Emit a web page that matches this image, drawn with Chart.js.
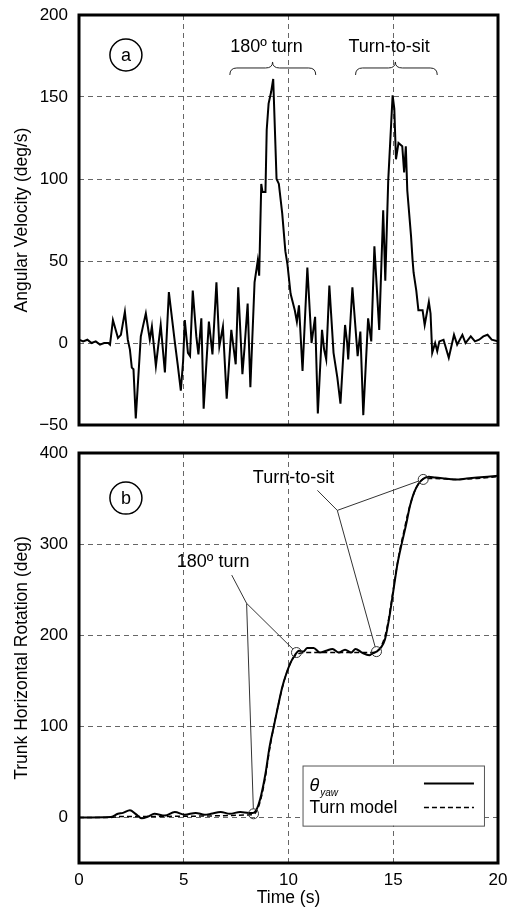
<!DOCTYPE html>
<html>
<head>
<meta charset="utf-8">
<script src="https://cdn.jsdelivr.net/npm/chart.js@4/dist/chart.umd.min.js"></script>
<style>
  html, body { margin: 0; padding: 0; background: #fff; }
  #wrapA { position: absolute; left: 0; top: 0; width: 513px; height: 440px; }
  #wrapB { position: absolute; left: 0; top: 440px; width: 513px; height: 470px; }
</style>
</head>
<body>
<div id="wrapA"><canvas id="chartA"></canvas></div>
<div id="wrapB"><canvas id="chartB"></canvas></div>
<script>
// panel a: angular velocity (deg/s) vs time (s)
const timeA = [0, 0.2, 0.4, 0.6, 0.8, 1.0, 1.2, 1.4, 1.48, 1.62, 1.86, 2.0, 2.19, 2.33, 2.43, 2.52, 2.6, 2.71, 2.95, 3.05, 3.19, 3.38, 3.48, 3.67, 3.9, 4.1, 4.29, 4.57, 4.71, 4.86, 4.97, 5.05, 5.2, 5.3, 5.43, 5.6, 5.7, 5.84, 5.95, 6.2, 6.37, 6.56, 6.7, 6.87, 7.05, 7.27, 7.48, 7.6, 7.8, 7.9, 8.05, 8.18, 8.38, 8.53, 8.6, 8.7, 8.76, 8.9, 8.96, 9.05, 9.17, 9.27, 9.43, 9.54, 9.7, 9.85, 9.95, 10.1, 10.2, 10.3, 10.4, 10.5, 10.67, 10.9, 11.1, 11.27, 11.4, 11.6, 11.7, 11.8, 11.95, 12.15, 12.33, 12.48, 12.7, 12.8, 12.85, 13.05, 13.3, 13.43, 13.57, 13.8, 13.95, 14.1, 14.33, 14.52, 14.62, 14.76, 14.97, 15.05, 15.13, 15.25, 15.43, 15.52, 15.6, 15.67, 15.85, 15.92, 15.97, 16.1, 16.2, 16.4, 16.5, 16.7, 16.78, 16.86, 17.0, 17.1, 17.2, 17.4, 17.65, 17.9, 18.05, 18.3, 18.45, 18.7, 18.9, 19.1, 19.3, 19.5, 19.7, 20.0];
const velA = [2, 1, 2, 0, 1, -1, 0, 0, -1, 14, 3, 5, 19, 2, -4, -15, -16, -46, 4, 10, 18, 2, 10, -14, 11, -18, 31, 1, -13, -29, -11, 14, -6, -8, 32, 4, -7, 15, -40, 13, -7, 37, -2, 10, -34, 8, -13, 34, -19, -3, 24, -27, 37, 50, 41, 97, 92, 92, 130, 146, 153, 161, 100, 97, 79, 56, 48, 30, 25, 20, 13, 23, -17, 46, 0, 16, -43, 8, -4, -10, 35, -6, -21, -37, 11, 0, -10, 34, -8, 7, -44, 15, 1, 59, 8, 81, 38, 99, 151, 143, 112, 122, 120, 104, 120, 93, 65, 51, 43, 32, 20, 20, 11, 25, 18, -6, 0, -5, 1, 2, -9, 5, -1, 5, 0, 4, 1, 2, 4, 5, 2, 1];

// panel b: trunk horizontal rotation (deg) vs time (s)
const timeB = [0, 1.5, 1.86, 2.1, 2.43, 2.7, 3.0, 3.3, 3.6, 4.1, 4.57, 5.05, 5.57, 6.0, 6.3, 6.76, 7.2, 7.7, 8.1, 8.3, 8.5, 8.7, 8.9, 9.1, 9.3, 9.5, 9.7, 9.9, 10.1, 10.3, 10.5, 10.7, 10.9, 11.2, 11.5, 11.8, 12.1, 12.4, 12.7, 13.0, 13.2, 13.5, 13.86, 14.0, 14.2, 14.4, 14.6, 14.8, 15.0, 15.2, 15.4, 15.6, 15.8, 16.0, 16.2, 16.45, 16.7, 17.0, 17.5, 18.0, 18.5, 19.0, 19.5, 20.0];
const thetaYaw = [0, 0.5, 4, 5, 8, 4, -1, 1, 4, 2, 6, 3, 5, 3, 4, 6, 4, 6, 5, 5, 10, 25, 48, 78, 100, 122, 143, 158, 170, 178, 183, 182, 186, 186, 181, 183, 185, 181, 184, 181, 185, 181, 178, 180, 182, 186, 195, 218, 248, 278, 300, 320, 342, 357, 366, 372, 374, 373, 372, 371, 372, 373, 374, 375];
const timeModel = [0, 1.5, 2.0, 8.3, 8.5, 8.7, 8.9, 9.1, 9.3, 9.5, 9.7, 9.9, 10.1, 10.3, 10.5, 11.0, 14.1, 14.3, 14.5, 14.7, 14.9, 15.1, 15.3, 15.5, 15.7, 15.9, 16.1, 16.3, 16.5, 17.0, 18.0, 19.0, 20.0];
const turnModel = [0, 0, 1, 3, 8, 22, 45, 75, 100, 122, 142, 158, 170, 177, 180, 181, 181, 184, 192, 208, 235, 265, 292, 313, 334, 350, 362, 369, 372, 372, 371, 372, 374];

const xTicks = [0, 5, 10, 15, 20];
const yTicksA = [-50, 0, 50, 100, 150, 200];
const yTicksB = [0, 100, 200, 300, 400];

const FONT = "'Liberation Sans', Arial, Helvetica, sans-serif";
const gridStyle = { color: '#666', lineWidth: 1, drawTicks: false };
const borderStyle = { display: false, dash: [5, 4] };
const minus = v => String(v).replace('-', '\u2212');

function pts(xs, ys) { return xs.map((x, i) => ({ x: x, y: ys[i] })); }
function setTicks(list) { return s => { s.ticks = list.map(v => ({ value: v })); }; }

// thick frame around the plot area
const framePlugin = {
  id: 'frame',
  afterDatasetsDraw(chart) {
    const a = chart.chartArea, ctx = chart.ctx;
    ctx.save();
    ctx.strokeStyle = '#000';
    ctx.lineWidth = 3;
    ctx.strokeRect(a.left, a.top, a.right - a.left, a.bottom - a.top);
    ctx.restore();
  }
};

function panelLabel(ctx, x, y, txt) {
  ctx.beginPath();
  ctx.arc(x, y, 16, 0, Math.PI * 2);
  ctx.lineWidth = 1.5;
  ctx.strokeStyle = '#000';
  ctx.stroke();
  ctx.fillStyle = '#000';
  ctx.font = '18px ' + FONT;
  ctx.textAlign = 'center';
  ctx.textBaseline = 'middle';
  ctx.fillText(txt, x, y + 1);
}

function brace(ctx, x1, x2, xm, y) {
  const r = 7;
  ctx.beginPath();
  ctx.moveTo(x1, y + r);
  ctx.quadraticCurveTo(x1, y, x1 + r, y);
  ctx.lineTo(xm - r, y);
  ctx.quadraticCurveTo(xm, y, xm, y - r + 1);
  ctx.quadraticCurveTo(xm, y, xm + r, y);
  ctx.lineTo(x2 - r, y);
  ctx.quadraticCurveTo(x2, y, x2, y + r);
  ctx.lineWidth = 1;
  ctx.strokeStyle = '#222';
  ctx.stroke();
}

function label(ctx, txt, x, y) {
  ctx.fillStyle = '#000';
  ctx.font = '18px ' + FONT;
  ctx.textAlign = 'center';
  ctx.textBaseline = 'middle';
  ctx.fillText(txt, x, y);
}

const notesA = {
  id: 'notesA',
  afterDraw(chart) {
    const ctx = chart.ctx, xs = chart.scales.x, ys = chart.scales.y;
    const X = v => xs.getPixelForValue(v), Y = v => ys.getPixelForValue(v);
    ctx.save();
    panelLabel(ctx, X(2.24), Y(175.6), 'a');
    label(ctx, '180\u00BA turn', X(8.95), Y(180.5));
    label(ctx, 'Turn-to-sit', X(14.8), Y(180.5));
    brace(ctx, X(7.2), X(11.3), X(9.24), Y(167.7));
    brace(ctx, X(13.2), X(17.1), X(15.1), Y(167.7));
    ctx.restore();
  }
};

function leader(ctx, start, cx, cy, r) {
  // line toward a circle, stopping at its edge
  const [sx, sy] = start;
  const dx = cx - sx, dy = cy - sy, d = Math.hypot(dx, dy);
  ctx.beginPath();
  ctx.moveTo(sx, sy);
  ctx.lineTo(cx - dx / d * r, cy - dy / d * r);
  ctx.stroke();
}

const notesB = {
  id: 'notesB',
  afterDraw(chart) {
    const ctx = chart.ctx, xs = chart.scales.x, ys = chart.scales.y;
    const X = v => xs.getPixelForValue(v), Y = v => ys.getPixelForValue(v);
    ctx.save();
    panelLabel(ctx, X(2.24), Y(350.5), 'b');
    label(ctx, 'Turn-to-sit', X(10.24), Y(372.5));
    label(ctx, '180\u00BA turn', X(6.4), Y(280));

    ctx.strokeStyle = '#333';
    ctx.lineWidth = 1;
    const r = 5;
    const marks = [[8.33, 4], [10.38, 181], [14.2, 182], [16.43, 371]];
    marks.forEach(([t, v]) => {
      ctx.beginPath();
      ctx.arc(X(t), Y(v), r, 0, Math.PI * 2);
      ctx.stroke();
    });
    // turn-to-sit leaders
    ctx.beginPath();
    ctx.moveTo(X(11.38), Y(359));
    ctx.lineTo(X(12.33), Y(337));
    ctx.stroke();
    leader(ctx, [X(12.33), Y(337)], X(16.43), Y(371), r);
    leader(ctx, [X(12.33), Y(337)], X(14.2), Y(182), r);
    // 180 turn leaders
    ctx.beginPath();
    ctx.moveTo(X(7.29), Y(266));
    ctx.lineTo(X(8.0), Y(235));
    ctx.stroke();
    leader(ctx, [X(8.0), Y(235)], X(10.38), Y(181), r);
    leader(ctx, [X(8.0), Y(235)], X(8.33), Y(4), r);

    // legend box
    const bx1 = X(10.67), bx2 = X(19.33), by1 = Y(57), by2 = Y(-9);
    ctx.fillStyle = '#fff';
    ctx.fillRect(bx1, by1, bx2 - bx1, by2 - by1);
    ctx.strokeStyle = '#555';
    ctx.strokeRect(bx1 + 0.5, by1 + 0.5, bx2 - bx1, by2 - by1);
    ctx.fillStyle = '#000';
    ctx.textAlign = 'left';
    ctx.textBaseline = 'middle';
    ctx.font = 'italic 18px ' + FONT;
    ctx.fillText('\u03B8', bx1 + 7, by1 + 20);
    const tw = ctx.measureText('\u03B8').width;
    ctx.font = 'italic 10px ' + FONT;
    ctx.fillText('yaw', bx1 + 8 + tw, by1 + 28);
    ctx.font = '17.5px ' + FONT;
    ctx.fillText('Turn model', bx1 + 7, by1 + 43);
    ctx.strokeStyle = '#000';
    ctx.lineWidth = 2;
    ctx.beginPath();
    ctx.moveTo(bx2 - 60, by1 + 18);
    ctx.lineTo(bx2 - 10, by1 + 18);
    ctx.stroke();
    ctx.lineWidth = 1.5;
    ctx.setLineDash([5, 3]);
    ctx.beginPath();
    ctx.moveTo(bx2 - 60, by1 + 42);
    ctx.lineTo(bx2 - 10, by1 + 42);
    ctx.stroke();
    ctx.restore();
  }
};

Chart.defaults.font.family = FONT;
Chart.defaults.font.size = 17;
Chart.defaults.color = '#000';

const fitY = s => { s.width = 79; s.paddingTop = 0; s.paddingBottom = 0; };
const titleFont = { size: 17.5 };

new Chart(document.getElementById('chartA'), {
  type: 'line',
  data: {
    datasets: [{
      data: pts(timeA, velA),
      borderColor: '#000',
      borderWidth: 2,
      pointRadius: 0,
      tension: 0
    }]
  },
  options: {
    responsive: true,
    maintainAspectRatio: false,
    animation: false,
    layout: { padding: { top: 15, right: 15, bottom: 15, left: 0 } },
    plugins: { legend: { display: false }, tooltip: { enabled: false } },
    scales: {
      x: {
        type: 'linear', min: 0, max: 20,
        afterBuildTicks: setTicks(xTicks),
        afterFit: s => { s.height = 0; s.paddingLeft = 0; s.paddingRight = 0; },
        ticks: { display: false },
        grid: gridStyle,
        border: borderStyle
      },
      y: {
        min: -50, max: 200,
        afterBuildTicks: setTicks(yTicksA),
        afterFit: fitY,
        ticks: { padding: 11, callback: minus },
        grid: gridStyle,
        border: borderStyle,
        title: { display: true, text: 'Angular Velocity (deg/s)', font: titleFont, padding: { top: 12, bottom: 0 } }
      }
    }
  },
  plugins: [framePlugin, notesA]
});

new Chart(document.getElementById('chartB'), {
  type: 'line',
  data: {
    datasets: [{
      label: '\u03B8yaw',
      data: pts(timeB, thetaYaw),
      borderColor: '#000',
      borderWidth: 2,
      pointRadius: 0,
      cubicInterpolationMode: 'monotone'
    }, {
      label: 'Turn model',
      data: pts(timeModel, turnModel),
      borderColor: '#000',
      borderWidth: 1.5,
      borderDash: [5, 3],
      pointRadius: 0,
      cubicInterpolationMode: 'monotone'
    }]
  },
  options: {
    responsive: true,
    maintainAspectRatio: false,
    animation: false,
    layout: { padding: { top: 13, right: 15, bottom: 0, left: 0 } },
    plugins: { legend: { display: false }, tooltip: { enabled: false } },
    scales: {
      x: {
        type: 'linear', min: 0, max: 20,
        afterBuildTicks: setTicks(xTicks),
        afterFit: s => { s.height = 47; s.paddingLeft = 0; s.paddingRight = 0; },
        ticks: { padding: 7, maxRotation: 0 },
        grid: gridStyle,
        border: borderStyle,
        title: { display: true, text: 'Time (s)', font: titleFont, padding: { top: 0, bottom: 1 } }
      },
      y: {
        min: -50, max: 400,
        afterBuildTicks: setTicks(yTicksB),
        afterFit: fitY,
        ticks: { padding: 11, callback: minus },
        grid: gridStyle,
        border: borderStyle,
        title: { display: true, text: 'Trunk Horizontal Rotation (deg)', font: titleFont, padding: { top: 12, bottom: 0 } }
      }
    }
  },
  plugins: [framePlugin, notesB]
});
</script>
</body>
</html>
